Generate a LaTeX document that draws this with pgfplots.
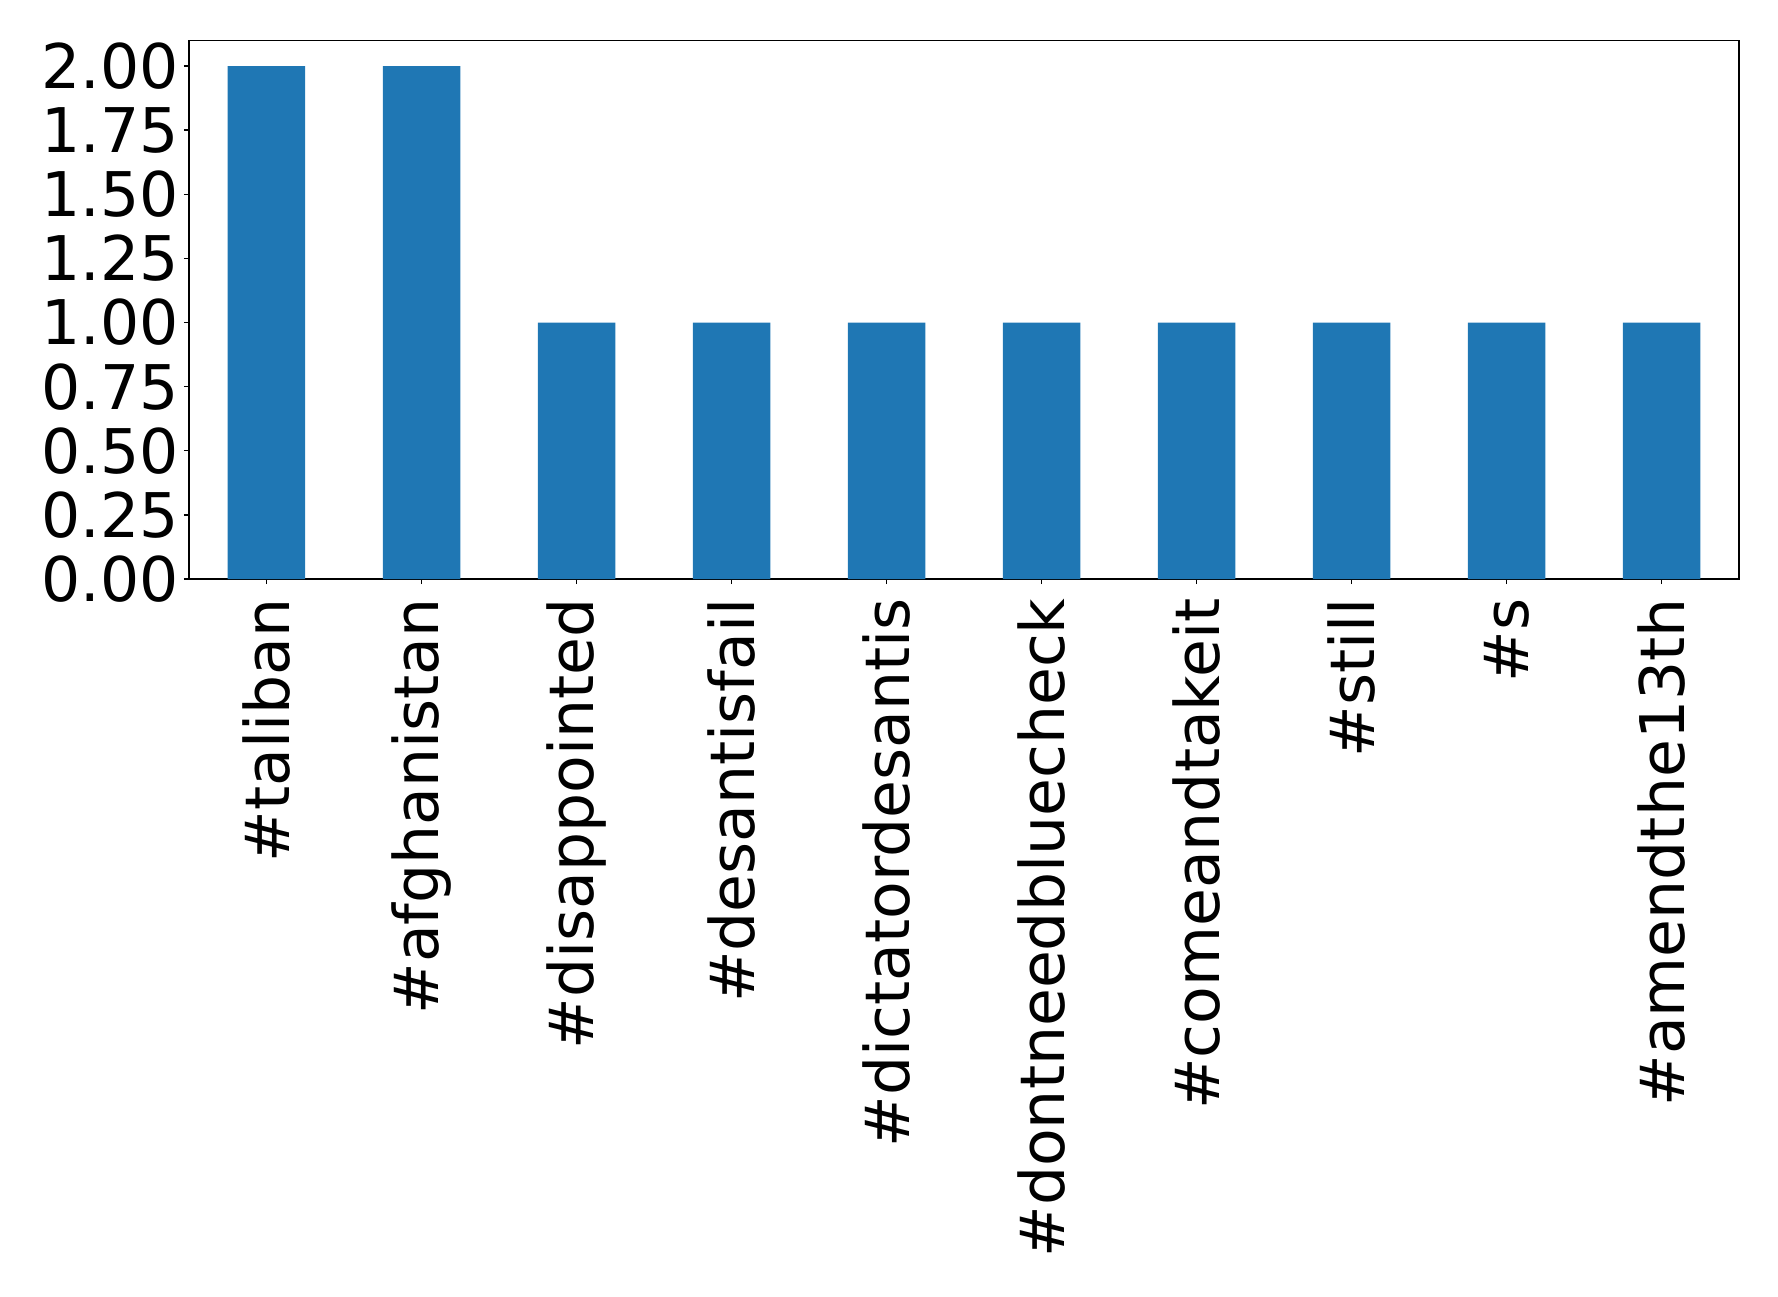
\documentclass[border=0pt]{standalone}
\usepackage{pgfplots}
\pgfplotsset{compat=1.18}
\usepackage{fontspec}
\setmainfont{DejaVu Sans}
\definecolor{mplblue}{HTML}{1F77B4}
\begin{document}
\begin{tikzpicture}[x=1bp,y=1bp]
\begin{axis}[
  scale only axis,
  width=775bp, height=269.3bp,
  xmin=-0.5, xmax=9.5, ymin=0, ymax=2.1,
  axis line style={line width=0.9bp},
  xtick={0,1,2,3,4,5,6,7,8,9},
  xticklabels={\#taliban,\#afghanistan,\#disappointed,\#desantisfail,\#dictatordesantis,\#dontneedbluecheck,\#comeandtakeit,\#still,\#s,\#amendthe13th},
  x tick label style={rotate=90, anchor=east, font=\fontsize{30.8bp}{36bp}\selectfont, inner sep=0pt},
  xticklabel shift=7bp,
  ytick={0,0.25,0.5,0.75,1,1.25,1.5,1.75,2},
  yticklabel style={/pgf/number format/fixed, /pgf/number format/fixed zerofill, /pgf/number format/precision=2},
  y tick label style={font=\fontsize{30.8bp}{36bp}\selectfont, inner sep=0pt},
  yticklabel shift=2.5bp,
  /pgf/number format/assume math mode=true,
  tick align=outside,
  major tick length=2.5bp,
  tick style={line width=0.7bp, black},
  xtick pos=bottom, ytick pos=left,
]
\addplot[ybar, bar width=0.5, fill=mplblue, draw=none, bar shift=0pt] coordinates {
(0,2) (1,2) (2,1) (3,1) (4,1) (5,1) (6,1) (7,1) (8,1) (9,1)
};
\end{axis}
\path (current axis.south west) ++(-94.5bp,-359bp) rectangle ++(889bp,648.5bp);
\end{tikzpicture}
\end{document}
